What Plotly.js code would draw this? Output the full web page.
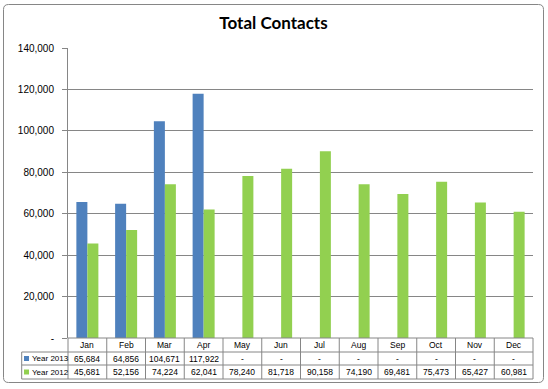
<!DOCTYPE html>
<html>
<head>
<meta charset="utf-8">
<script src="https://cdn.plot.ly/plotly-3.0.1.min.js"></script>
<style>html,body{margin:0;padding:0;background:#fff;}#chart{width:548px;height:389px;}</style>
</head>
<body>
<div id="chart"></div>
<script>
const months = ['Jan','Feb','Mar','Apr','May','Jun','Jul','Aug','Sep','Oct','Nov','Dec'];
const year2013 = [65684, 64856, 104671, 117922, null, null, null, null, null, null, null, null];
const year2012 = [45681, 52156, 74224, 62041, 78240, 81718, 90158, 74190, 69481, 75473, 65427, 60981];
const seriesNames = ['Year 2013', 'Year 2012'];
const yTickVals = [0, 20000, 40000, 60000, 80000, 100000, 120000, 140000];
const yTickText = ['-', '20,000', '40,000', '60,000', '80,000', '100,000', '120,000', '140,000'];

const COL13 = '#4F81BD', COL12 = '#92D050', GRID = '#868686';
const L = 68, R = 533, T = 48, B = 338;
const px = x => (x - L) / (R - L);
const py = y => (B - y) / (B - T);
const fmt = v => v == null ? '-' : String(v).replace(/\B(?=(\d{3})+(?!\d))/g, ',');

const shapes = [];
const line = (x0, y0, x1, y1) => shapes.push({type:'line', xref:'paper', yref:'paper',
  x0:px(x0), y0:py(y0), x1:px(x1), y1:py(y1), line:{color:GRID, width:1}});
// table rows
const rowY = [338, 352, 365, 379];
line(L, rowY[0], R, rowY[0]);
for (let r = 1; r < 4; r++) line(21.7, rowY[r], R, rowY[r]);
line(21.7, rowY[1], 21.7, rowY[3]);
for (let i = 0; i <= months.length; i++) {
  const x = L + i * (R - L) / months.length;
  line(x, rowY[0], x, rowY[3]);
}
// legend keys
[[COL13, 1], [COL12, 2]].forEach(([c, r]) => {
  const yc = (rowY[r] + rowY[r + 1]) / 2;
  shapes.push({type:'rect', xref:'paper', yref:'paper', x0:px(24), x1:px(29), y0:py(yc - 2.5), y1:py(yc + 2.5),
    fillcolor:c, line:{width:0}});
});
// outer rounded border
{
  const x0 = px(3.5), x1 = px(543.5), y0 = py(382.5), y1 = py(4.5);
  const rx = 5 / (R - L), ry = 5 / (B - T);
  const p = `M ${x0 + rx} ${y1} L ${x1 - rx} ${y1} Q ${x1} ${y1} ${x1} ${y1 - ry} L ${x1} ${y0 + ry} Q ${x1} ${y0} ${x1 - rx} ${y0} L ${x0 + rx} ${y0} Q ${x0} ${y0} ${x0} ${y0 + ry} L ${x0} ${y1 - ry} Q ${x0} ${y1} ${x0 + rx} ${y1} Z`;
  shapes.push({type:'path', xref:'paper', yref:'paper', path:p, line:{color:GRID, width:1}});
}

const annotations = [];
const tf = {family:'Liberation Sans, Arial, sans-serif', size:8.5, color:'#000'};
const lf = {family:'Liberation Sans, Arial, sans-serif', size:8, color:'#000'};
const rowC = r => py((rowY[r] + rowY[r + 1]) / 2);
months.forEach((m, i) => {
  annotations.push({xref:'x', yref:'paper', x:m, y:rowC(0), text:m, showarrow:false, font:tf, xanchor:'center', yanchor:'middle'});
  annotations.push({xref:'x', yref:'paper', x:m, y:rowC(1), text:fmt(year2013[i]), showarrow:false, font:tf, xanchor:'center', yanchor:'middle'});
  annotations.push({xref:'x', yref:'paper', x:m, y:rowC(2), text:fmt(year2012[i]), showarrow:false, font:tf, xanchor:'center', yanchor:'middle'});
});
seriesNames.forEach((n, k) => {
  annotations.push({xref:'paper', yref:'paper', x:px(30), y:rowC(k + 1), text:n, showarrow:false, font:lf, xanchor:'left', yanchor:'middle'});
});

const data = [
  {type:'bar', name:seriesNames[0], x:months, y:year2013, marker:{color:COL13}, hoverinfo:'none'},
  {type:'bar', name:seriesNames[1], x:months, y:year2012, marker:{color:COL12}, hoverinfo:'none'}
];

const layout = {
  width:548, height:389,
  margin:{l:L, r:548 - R, t:T, b:389 - B, pad:0},
  paper_bgcolor:'#fff', plot_bgcolor:'#fff',
  showlegend:false,
  barmode:'group', bargap:0.432, bargroupgap:0,
  title:{text:'<b>Total Contacts</b>', x:px(273.5), xref:'paper', y:1 - 23 / 389, yanchor:'middle',
    font:{family:'Lato, Calibri, sans-serif', size:17, color:'#000'}},
  xaxis:{type:'category', showticklabels:false, showgrid:false, zeroline:false, showline:false, ticks:'', fixedrange:true},
  yaxis:{range:[0, 140000], tickvals:yTickVals, ticktext:yTickText, showgrid:true, gridcolor:GRID, gridwidth:1,
    zeroline:false, showline:true, linecolor:GRID, linewidth:1, ticks:'outside', ticklen:5, tickcolor:GRID,
    ticklabelstandoff:6,
    tickfont:{family:'Liberation Sans, Arial, sans-serif', size:10, color:'#000'}, fixedrange:true},
  shapes, annotations
};
Plotly.newPlot('chart', data, layout, {displayModeBar:false, staticPlot:true});
</script>
</body>
</html>
